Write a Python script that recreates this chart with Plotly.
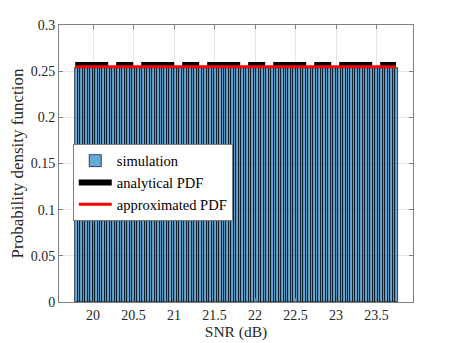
import numpy as np
import plotly.graph_objects as go

# histogram of simulated SNR samples (density normalised)
snr_lo = 19.78
snr_hi = 23.76
sim_density = [
    0.2535, 0.2535, 0.2535, 0.2535, 0.2535, 0.2535, 0.2535, 0.2535, 0.2535, 0.2535,
    0.2535, 0.2535, 0.2535, 0.2535, 0.2535, 0.2535, 0.2535, 0.2535, 0.2535, 0.2535,
    0.2535, 0.2535, 0.2535, 0.2535, 0.2535, 0.2535, 0.2535, 0.2535, 0.2535, 0.2535,
    0.2535, 0.2535, 0.2535, 0.2535, 0.2535, 0.2535, 0.2535, 0.2535, 0.2535, 0.2535,
    0.2535, 0.2535, 0.2535, 0.2535, 0.2535, 0.2535, 0.2535, 0.2535, 0.2535, 0.2535,
    0.2535, 0.2535, 0.2535, 0.2535, 0.2535, 0.2535, 0.2535, 0.2535, 0.2535, 0.2535,
    0.2535, 0.2535, 0.2535, 0.2535, 0.2535, 0.2535, 0.2535, 0.2535, 0.2535, 0.2535,
    0.2535, 0.2535, 0.2535, 0.2535, 0.2535, 0.2535, 0.2535, 0.2535, 0.2535, 0.2535,
    0.2535, 0.2535, 0.2535, 0.2535, 0.2535, 0.2535, 0.2535, 0.2535, 0.2535, 0.2535,
    0.2535, 0.2535, 0.2535, 0.2535, 0.2535, 0.2535, 0.2535, 0.2535, 0.2535, 0.2535,
    0.2535, 0.2535, 0.2535, 0.2535, 0.2535, 0.2535, 0.2535, 0.2535, 0.2535, 0.2535,
    0.2535, 0.2535, 0.2535, 0.2535, 0.2535, 0.2535, 0.2535, 0.2535, 0.2535, 0.2535,
    0.2535, 0.2535, 0.2535, 0.2535, 0.2535, 0.2535, 0.2535, 0.2535, 0.2535, 0.2535,
]

# analytical and approximated PDFs (flat over the SNR range)
pdf_snr = [19.78, 23.74]
analytical_pdf = [0.2567, 0.2567]
approx_pdf = [0.2549, 0.2549]

x_ticks = [20, 20.5, 21, 21.5, 22, 22.5, 23, 23.5]
y_ticks = [0, 0.05, 0.1, 0.15, 0.2, 0.25, 0.3]

SERIF = "Liberation Serif"
tick_font = dict(family=SERIF, size=14, color="#262626")

edges = np.linspace(snr_lo, snr_hi, len(sim_density) + 1)
centers = (edges[:-1] + edges[1:]) / 2.0
bin_w = edges[1] - edges[0]

fig = go.Figure()

fig.add_trace(go.Bar(
    x=centers, y=sim_density, width=bin_w,
    name="simulation",
    marker=dict(color="rgba(0,114,189,0.6)",
                line=dict(color="rgba(0,0,0,0.85)", width=0.8)),
))
fig.add_trace(go.Scatter(
    x=pdf_snr, y=analytical_pdf, mode="lines", name="analytical PDF",
    line=dict(color="black", width=6, dash="33px,8px,17px,8px"),
))
fig.add_trace(go.Scatter(
    x=pdf_snr, y=approx_pdf, mode="lines", name="approximated PDF",
    line=dict(color="#ff0000", width=3),
))

axis_style = dict(
    showline=True, linecolor="#808080", linewidth=1, mirror="ticks",
    ticks="inside", ticklen=4, tickcolor="#808080",
    showgrid=True, gridcolor="#e6e6e6", gridwidth=1, zeroline=False,
    tickfont=tick_font, automargin=False,
)

# page body keeps an 8px margin, so the figure is drawn 8px smaller
fig.update_layout(
    width=449, height=335,
    margin=dict(l=51, r=44, t=17, b=41),
    paper_bgcolor="white", plot_bgcolor="white",
    bargap=0,
    font=tick_font,
    xaxis=dict(range=[19.58, 23.95], tickvals=x_ticks,
               title=dict(text="SNR (dB)", standoff=1,
                          font=dict(family=SERIF, size=15.5, color="#262626")),
               **axis_style),
    yaxis=dict(range=[0, 0.3], tickvals=y_ticks,
               title=dict(text="Probability density function", standoff=7,
                          font=dict(family=SERIF, size=17, color="#262626")),
               **axis_style),
    legend=dict(x=0.04, y=0.57, xanchor="left", yanchor="top",
                bgcolor="white", bordercolor="#262626", borderwidth=0.6,
                itemwidth=33, tracegroupgap=0,
                font=dict(family=SERIF, size=14.5, color="#000000")),
    showlegend=True,
)

fig.write_html("out.html", config={"displayModeBar": False})
